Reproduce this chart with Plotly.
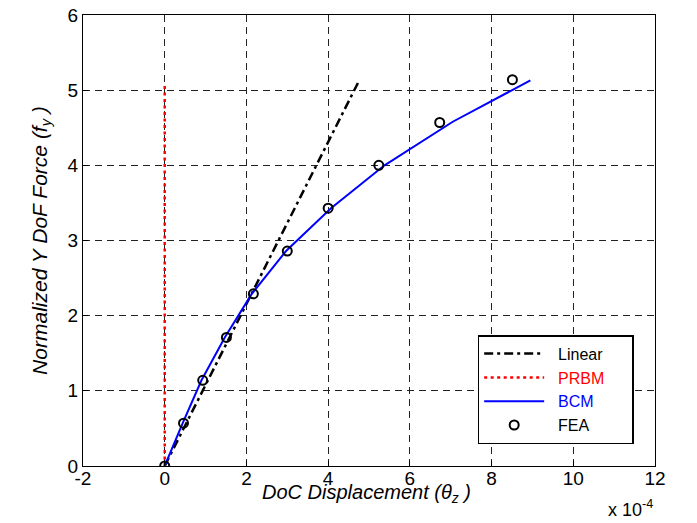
import plotly.graph_objects as go

# Data (x in units of 1e-4)
linear_x = [0.0, 4.77]
linear_y = [0.0, 5.14]

prbm_x = [0.0, 0.0]
prbm_y = [0.0, 5.1]

bcm_x = [0.0, 0.44, 0.90, 1.47, 2.13, 2.97, 4.07, 5.38, 7.05, 8.95]
bcm_y = [0.0, 0.57, 1.14, 1.71, 2.29, 2.86, 3.43, 4.00, 4.58, 5.13]

fea_x = [0.0, 0.46, 0.93, 1.51, 2.17, 3.00, 4.00, 5.24, 6.73, 8.51]
fea_y = [0.0, 0.57, 1.14, 1.71, 2.29, 2.86, 3.43, 4.00, 4.57, 5.14]

x_ticks = [-2, 0, 2, 4, 6, 8, 10, 12]
y_ticks = [0, 1, 2, 3, 4, 5, 6]

FONT = "Liberation Sans, Arial, sans-serif"
PAD = "&nbsp;&nbsp;"
TPAD = "&nbsp;&nbsp;&nbsp;&nbsp;&nbsp;"

fig = go.Figure()
fig.add_trace(go.Scatter(x=linear_x, y=linear_y, mode="lines", name=PAD + "Linear" + TPAD,
                         line=dict(color="black", width=2.5, dash="9px,4px,3px,4px")))
fig.add_trace(go.Scatter(x=prbm_x, y=prbm_y, mode="lines",
                         name=PAD + "<span style='color:red'>PRBM</span>" + TPAD,
                         line=dict(color="red", width=2.5, dash="3px,3.5px")))
fig.add_trace(go.Scatter(x=bcm_x, y=bcm_y, mode="lines",
                         name=PAD + "<span style='color:blue'>BCM</span>" + TPAD,
                         line=dict(color="blue", width=2)))
fig.add_trace(go.Scatter(x=fea_x, y=fea_y, mode="markers", name=PAD + "FEA" + TPAD,
                         marker=dict(symbol="circle-open", size=9, color="black",
                                     line=dict(width=2, color="black"))))

axis_common = dict(
    showline=True, linecolor="black", linewidth=1, mirror=True,
    ticks="inside", ticklen=5, tickcolor="black",
    showgrid=True, gridcolor="#222", gridwidth=1, griddash="7px,5px",
    zeroline=False, automargin=False,
    tickfont=dict(family=FONT, size=19, color="black"),
)

fig.update_xaxes(range=[-2, 12], tickvals=x_ticks, ticktext=[str(t) for t in x_ticks],
                 ticklabelstandoff=-5, **axis_common)
fig.update_yaxes(range=[0, 6], tickvals=y_ticks, ticktext=[str(t) for t in y_ticks],
                 title=dict(text="<i>Normalized Y DoF Force (f<sub>y</sub> )</i>",
                            font=dict(family=FONT, size=21, color="black"), standoff=14),
                 **axis_common)

# x-axis title (placed as annotation so it can sit close to tick labels)
fig.add_annotation(text="<i>DoC Displacement (θ<sub>z</sub> )</i>", xref="paper", yref="paper",
                   x=0.495, y=-0.062, xanchor="center", yanchor="middle", showarrow=False,
                   font=dict(family=FONT, size=20, color="black"))

fig.add_annotation(text="x 10<sup>-4</sup>", xref="paper", yref="paper",
                   x=0.958, y=-0.095, xanchor="center", yanchor="middle", showarrow=False,
                   font=dict(family=FONT, size=18, color="black"))

fig.update_layout(
    width=697, height=523,
    margin=dict(l=83, r=42, t=15, b=57, autoexpand=False),
    paper_bgcolor="white", plot_bgcolor="white",
    font=dict(family=FONT, size=16, color="black"),
    showlegend=True,
    legend=dict(x=0.69, y=0.29, xanchor="left", yanchor="top",
                bgcolor="white", bordercolor="black", borderwidth=1.5,
                font=dict(family=FONT, size=16, color="black"),
                itemwidth=60, tracegroupgap=0),
)

fig.write_html("out.html", config={"displayModeBar": False},
               post_script="document.body.style.margin='0px';")
